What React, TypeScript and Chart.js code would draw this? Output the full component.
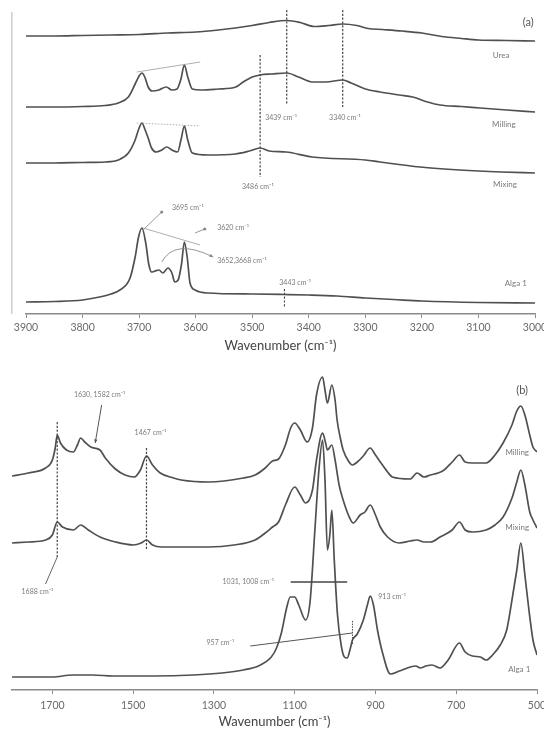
import { useEffect, useRef } from "react";
import { Chart, registerables } from "chart.js";

Chart.register(...registerables);

const FONT = "Lato, 'Open Sans', 'DejaVu Sans', sans-serif";
const TRACE_COLOR = "#505050";

type Pt = [number, number];

// ---- Panel (a): 3900–3000 cm⁻¹, stacked spectra (wavenumber, offset absorbance) ----
const TICKS_A = [3900, 3800, 3700, 3600, 3500, 3400, 3300, 3200, 3100, 3000];

const UREA_A: Pt[] = [
  [3900, 2.78], [3850, 2.78], [3800, 2.785], [3750, 2.79], [3700, 2.795], [3650, 2.81],
  [3600, 2.82], [3560, 2.84], [3530, 2.86], [3500, 2.885], [3470, 2.915], [3439, 2.935],
  [3415, 2.915], [3390, 2.875], [3365, 2.885], [3340, 2.9], [3315, 2.885], [3295, 2.855],
  [3270, 2.845], [3235, 2.83], [3200, 2.81], [3165, 2.775], [3130, 2.755], [3100, 2.74],
  [3050, 2.735], [3000, 2.73],
];

const MILLING_A: Pt[] = [
  [3900, 2.07], [3850, 2.07], [3800, 2.075], [3760, 2.085], [3737, 2.11], [3719, 2.17],
  [3707, 2.3], [3700, 2.38], [3695, 2.41], [3690, 2.37], [3684, 2.27], [3677, 2.23],
  [3665, 2.24], [3652, 2.27], [3642, 2.24], [3633, 2.25], [3626, 2.35], [3620, 2.49],
  [3614, 2.37], [3606, 2.25], [3590, 2.24], [3560, 2.25], [3529, 2.27], [3516, 2.32],
  [3500, 2.37], [3486, 2.39], [3465, 2.4], [3439, 2.41], [3418, 2.37], [3394, 2.32],
  [3370, 2.32], [3340, 2.34], [3325, 2.31], [3300, 2.25], [3274, 2.22], [3240, 2.19],
  [3216, 2.17], [3190, 2.12], [3168, 2.09], [3130, 2.075], [3097, 2.06], [3050, 2.04],
  [3000, 2.02],
];

const MIXING_A: Pt[] = [
  [3900, 1.51], [3850, 1.51], [3800, 1.515], [3760, 1.52], [3737, 1.54], [3719, 1.61],
  [3707, 1.74], [3700, 1.86], [3695, 1.91], [3690, 1.85], [3684, 1.76], [3678, 1.66],
  [3670, 1.62], [3660, 1.64], [3651, 1.67], [3642, 1.64], [3632, 1.62], [3626, 1.74],
  [3620, 1.88], [3614, 1.74], [3606, 1.61], [3578, 1.59], [3530, 1.6], [3505, 1.63],
  [3486, 1.66], [3470, 1.63], [3440, 1.62], [3394, 1.57], [3300, 1.54], [3274, 1.52],
  [3203, 1.47], [3133, 1.44], [3060, 1.42], [3000, 1.41],
];

const ALGA_A: Pt[] = [
  [3900, 0.12], [3850, 0.125], [3800, 0.14], [3770, 0.17], [3750, 0.2], [3734, 0.24],
  [3716, 0.36], [3707, 0.57], [3701, 0.77], [3695, 0.86], [3688, 0.7], [3683, 0.5],
  [3678, 0.42], [3672, 0.43], [3665, 0.44], [3658, 0.41], [3649, 0.46], [3642, 0.41],
  [3637, 0.32], [3631, 0.34], [3625, 0.5], [3620, 0.72], [3615, 0.57], [3610, 0.31],
  [3601, 0.24], [3580, 0.21], [3500, 0.2], [3443, 0.195], [3400, 0.19], [3350, 0.18],
  [3300, 0.16], [3250, 0.145], [3200, 0.13], [3100, 0.115], [3000, 0.11],
];

// ---- Panel (b): 1800–500 cm⁻¹ ----
const TICKS_B = [1700, 1500, 1300, 1100, 900, 700, 500];

const MILLING_B: Pt[] = [
  [1800, 2.14], [1760, 2.17], [1717, 2.22], [1700, 2.3], [1693, 2.42], [1688, 2.55],
  [1680, 2.47], [1665, 2.4], [1648, 2.38], [1638, 2.45], [1630, 2.52], [1620, 2.48],
  [1605, 2.43], [1582, 2.4], [1569, 2.32], [1544, 2.21], [1520, 2.15], [1497, 2.13],
  [1482, 2.2], [1467, 2.34], [1452, 2.25], [1433, 2.17], [1400, 2.12], [1381, 2.1],
  [1313, 2.08], [1227, 2.12], [1198, 2.15], [1173, 2.22], [1155, 2.29], [1140, 2.31],
  [1123, 2.45], [1110, 2.62], [1100, 2.67], [1086, 2.6], [1069, 2.48], [1056, 2.62],
  [1046, 2.95], [1031, 3.13], [1025, 3.0], [1019, 2.87], [1008, 3.05], [1000, 2.9],
  [995, 2.7], [987, 2.52], [980, 2.4], [967, 2.29], [957, 2.25], [945, 2.28], [930, 2.34],
  [913, 2.42], [900, 2.35], [888, 2.28], [870, 2.18], [858, 2.13], [814, 2.11], [797, 2.17],
  [780, 2.13], [764, 2.15], [745, 2.17], [730, 2.2], [710, 2.28], [692, 2.35], [678, 2.28],
  [660, 2.27], [626, 2.27], [604, 2.35], [584, 2.47], [562, 2.65], [550, 2.79], [540, 2.84],
  [530, 2.75], [518, 2.55], [510, 2.43], [500, 2.38],
];

const MIXING_B: Pt[] = [
  [1800, 1.47], [1760, 1.48], [1717, 1.5], [1700, 1.55], [1688, 1.68], [1675, 1.63],
  [1648, 1.6], [1630, 1.65], [1611, 1.6], [1582, 1.53], [1544, 1.48], [1500, 1.45],
  [1480, 1.47], [1467, 1.5], [1452, 1.45], [1430, 1.43], [1313, 1.43], [1250, 1.45],
  [1198, 1.5], [1173, 1.57], [1155, 1.63], [1140, 1.68], [1123, 1.85], [1100, 2.03],
  [1086, 1.95], [1073, 1.87], [1056, 2.0], [1046, 2.3], [1031, 2.57], [1024, 2.48],
  [1019, 2.4], [1008, 2.45], [1000, 2.3], [990, 2.05], [980, 1.9], [967, 1.75], [955, 1.67],
  [938, 1.75], [926, 1.78], [913, 1.85], [900, 1.75], [888, 1.63], [870, 1.53], [841, 1.47],
  [814, 1.49], [797, 1.5], [780, 1.48], [764, 1.48], [740, 1.53], [710, 1.6], [692, 1.68],
  [678, 1.6], [660, 1.58], [626, 1.6], [604, 1.65], [584, 1.73], [562, 1.92], [550, 2.08],
  [540, 2.2], [530, 2.05], [518, 1.78], [510, 1.7], [500, 1.62],
];

const ALGA_B: Pt[] = [
  [1800, 0.13], [1700, 0.13], [1650, 0.15], [1600, 0.15], [1550, 0.14], [1450, 0.14],
  [1350, 0.15], [1280, 0.17], [1227, 0.2], [1190, 0.24], [1158, 0.33], [1145, 0.42],
  [1133, 0.57], [1120, 0.82], [1111, 0.93], [1100, 0.93], [1090, 0.85], [1073, 0.7],
  [1062, 0.88], [1050, 1.6], [1040, 2.2], [1031, 2.5], [1025, 2.1], [1019, 1.4],
  [1013, 1.55], [1008, 1.8], [1002, 1.3], [994, 0.75], [985, 0.45], [977, 0.33], [970, 0.32],
  [962, 0.42], [957, 0.5], [945, 0.56], [930, 0.7], [920, 0.85], [913, 0.94], [905, 0.85],
  [895, 0.6], [883, 0.38], [863, 0.16], [841, 0.19], [814, 0.23], [800, 0.24], [789, 0.22],
  [775, 0.24], [760, 0.25], [740, 0.22], [720, 0.3], [692, 0.47], [678, 0.38], [660, 0.34],
  [640, 0.33], [626, 0.3], [610, 0.35], [591, 0.45], [575, 0.6], [560, 0.95], [550, 1.2],
  [540, 1.47], [530, 1.15], [520, 0.8], [510, 0.5], [500, 0.35],
];

// ---- Annotations, placed in (wavenumber, absorbance) coordinates ----
type Note =
  | { kind: "line"; pts: Pt[]; color?: string; width?: number; dash?: number[]; end?: "dot" | "arrow" }
  | { kind: "curve"; pts: [Pt, Pt, Pt]; color?: string; width?: number; end?: "dot" | "arrow" }
  | { kind: "text"; at: Pt; text: string; size?: number; color?: string; align?: CanvasTextAlign };

const DASH = [2.2, 1.6];
const NOTE_GREY = "#8a8a8a";

const NOTES_A: Note[] = [
  { kind: "line", pts: [[3925, 3.02], [3925, 0]], color: "#b5b5b5", width: 1 },
  { kind: "line", pts: [[3439, 3.04], [3439, 2.09]], dash: DASH, color: "#444", width: 1.2 },
  { kind: "line", pts: [[3340, 3.04], [3340, 2.07]], dash: DASH, color: "#444", width: 1.2 },
  { kind: "line", pts: [[3486, 2.59], [3486, 1.37]], dash: DASH, color: "#444", width: 1.2 },
  { kind: "line", pts: [[3443, 0.25], [3443, 0.07]], dash: DASH, color: "#444", width: 1.1 },
  { kind: "text", at: [3449, 1.96], text: "3439 cm⁻¹" },
  { kind: "text", at: [3336, 1.96], text: "3340 cm⁻¹" },
  { kind: "text", at: [3490, 1.27], text: "3486 cm⁻¹" },
  { kind: "text", at: [3424, 0.31], text: "3443 cm⁻¹" },
  { kind: "line", pts: [[3704, 2.42], [3592, 2.52]], color: "#9a9a9a", width: 0.8 },
  { kind: "line", pts: [[3704, 1.91], [3592, 1.88]], color: "#9a9a9a", width: 0.8, dash: [1.5, 1.5] },
  { kind: "line", pts: [[3693, 0.86], [3592, 0.69]], color: "#9a9a9a", width: 0.8 },
  { kind: "line", pts: [[3693, 0.84], [3660, 1.02]], color: NOTE_GREY, width: 0.9, end: "dot" },
  { kind: "text", at: [3642, 1.06], text: "3695 cm⁻¹", align: "left" },
  { kind: "line", pts: [[3601, 0.81], [3584, 0.85]], color: NOTE_GREY, width: 0.9, end: "dot" },
  { kind: "text", at: [3562, 0.86], text: "3620 cm⁻¹", align: "left" },
  { kind: "curve", pts: [[3660, 0.52], [3637, 0.76], [3569, 0.57]], color: NOTE_GREY, width: 0.9, end: "arrow" },
  { kind: "text", at: [3562, 0.53], text: "3652,3668 cm⁻¹", align: "left" },
  { kind: "text", at: [3060, 2.59], text: "Urea", size: 8 },
  { kind: "text", at: [3055, 1.9], text: "Milling", size: 8 },
  { kind: "text", at: [3053, 1.3], text: "Mixing", size: 8 },
  { kind: "text", at: [3034, 0.31], text: "Alga 1", size: 8 },
  { kind: "text", at: [3012, 2.92], text: "(a)", size: 11, color: "#555" },
];

const NOTES_B: Note[] = [
  { kind: "line", pts: [[1688, 2.68], [1688, 1.33]], dash: DASH, color: "#444", width: 1.2 },
  { kind: "line", pts: [[1467, 2.42], [1467, 1.4]], dash: DASH, color: "#444", width: 1.2 },
  { kind: "text", at: [1583, 2.95], text: "1630, 1582 cm⁻¹" },
  { kind: "line", pts: [[1578, 2.85], [1594, 2.47]], color: "#555", width: 1, end: "arrow" },
  { kind: "text", at: [1457, 2.57], text: "1467 cm⁻¹" },
  { kind: "text", at: [1737, 0.98], text: "1688 cm⁻¹" },
  { kind: "line", pts: [[1717, 1.06], [1688, 1.33]], color: "#666", width: 1 },
  { kind: "text", at: [1215, 1.08], text: "1031, 1008 cm⁻¹" },
  { kind: "line", pts: [[1110, 1.08], [970, 1.08]], color: "#444", width: 1.4 },
  { kind: "text", at: [893, 0.93], text: "913 cm⁻¹", align: "left" },
  { kind: "text", at: [1284, 0.47], text: "957 cm⁻¹" },
  { kind: "line", pts: [[1210, 0.44], [957, 0.57]], color: "#555", width: 1 },
  { kind: "line", pts: [[957, 0.46], [957, 0.7]], dash: [1.5, 1.2], color: "#444", width: 1 },
  { kind: "text", at: [549, 2.38], text: "Milling", size: 8 },
  { kind: "text", at: [549, 1.63], text: "Mixing", size: 8 },
  { kind: "text", at: [544, 0.21], text: "Alga 1", size: 8 },
  { kind: "text", at: [537, 3.0], text: "(b)", size: 11, color: "#555" },
];

type PanelSpec = {
  series: Pt[][];
  ticks: number[];
  wMin: number;
  wMax: number;
  vMax: number;
  pad: { left: number; right: number; top: number; bottom: number };
  tickPad: number;
  notes: Note[];
};

const PANEL_A: PanelSpec = {
  series: [UREA_A, MILLING_A, MIXING_A, ALGA_A],
  ticks: TICKS_A,
  wMin: 3000,
  wMax: 3900,
  vMax: 3.1,
  pad: { left: 26, right: 9, top: 4, bottom: 6 },
  tickPad: 3,
  notes: NOTES_A,
};

const PANEL_B: PanelSpec = {
  series: [MILLING_B, MIXING_B, ALGA_B],
  ticks: TICKS_B,
  wMin: 500,
  wMax: 1800,
  vMax: 3.25,
  pad: { left: 12, right: 7, top: 5, bottom: 7 },
  tickPad: 5,
  notes: NOTES_B,
};

function drawEnd(ctx: CanvasRenderingContext2D, from: number[], to: number[], end: "dot" | "arrow") {
  if (end === "dot") {
    ctx.beginPath();
    ctx.arc(to[0], to[1], 1.6, 0, Math.PI * 2);
    ctx.fill();
    return;
  }
  const ang = Math.atan2(to[1] - from[1], to[0] - from[0]);
  const len = 4;
  ctx.beginPath();
  ctx.moveTo(to[0], to[1]);
  ctx.lineTo(to[0] - len * Math.cos(ang - 0.45), to[1] - len * Math.sin(ang - 0.45));
  ctx.lineTo(to[0] - len * Math.cos(ang + 0.45), to[1] - len * Math.sin(ang + 0.45));
  ctx.closePath();
  ctx.fill();
}

function notesPlugin(notes: Note[]) {
  return {
    id: "spectrumNotes",
    afterDraw(chart: Chart) {
      const { ctx } = chart;
      const xs = chart.scales.x;
      const ys = chart.scales.y;
      const P = (p: Pt) => [xs.getPixelForValue(p[0]), ys.getPixelForValue(p[1])];
      ctx.save();
      for (const n of notes) {
        if (n.kind === "text") {
          const [x, y] = P(n.at);
          ctx.font = `${n.size ?? 7}px ${FONT}`;
          ctx.fillStyle = n.color ?? "#7a7a7a";
          ctx.textAlign = n.align ?? "center";
          ctx.textBaseline = "middle";
          ctx.fillText(n.text, x, y);
          continue;
        }
        const color = n.color ?? "#555";
        ctx.strokeStyle = color;
        ctx.fillStyle = color;
        ctx.lineWidth = n.width ?? 1;
        const pp = n.pts.map(P);
        ctx.setLineDash(n.kind === "line" && n.dash ? n.dash : []);
        ctx.beginPath();
        ctx.moveTo(pp[0][0], pp[0][1]);
        if (n.kind === "curve") {
          ctx.quadraticCurveTo(pp[1][0], pp[1][1], pp[2][0], pp[2][1]);
        } else {
          for (let i = 1; i < pp.length; i++) ctx.lineTo(pp[i][0], pp[i][1]);
        }
        ctx.stroke();
        ctx.setLineDash([]);
        if (n.end) drawEnd(ctx, pp[pp.length - 2], pp[pp.length - 1], n.end);
      }
      ctx.restore();
    },
  };
}

function SpectrumPanel({ spec, top, height }: { spec: PanelSpec; top: number; height: number }) {
  const ref = useRef<HTMLCanvasElement | null>(null);

  useEffect(() => {
    if (!ref.current) return;
    const chart = new Chart(ref.current, {
      type: "line",
      data: {
        datasets: spec.series.map((s) => ({
          data: s.map(([x, y]) => ({ x, y })),
          borderColor: TRACE_COLOR,
          borderWidth: 1.7,
          pointRadius: 0,
          fill: false,
          cubicInterpolationMode: "monotone" as const,
        })),
      },
      options: {
        animation: false,
        responsive: false,
        maintainAspectRatio: false,
        events: [],
        layout: { padding: spec.pad },
        plugins: { legend: { display: false }, tooltip: { enabled: false } },
        scales: {
          x: {
            type: "linear",
            min: spec.wMin,
            max: spec.wMax,
            reverse: true,
            afterBuildTicks: (s: any) => {
              s.ticks = spec.ticks.map((value) => ({ value }));
            },
            afterFit: (s: any) => {
              s.height = 40;
              s.paddingLeft = 0;
              s.paddingRight = 0;
            },
            ticks: {
              autoSkip: false,
              maxRotation: 0,
              padding: spec.tickPad,
              color: "#6a6a6a",
              font: { family: FONT, size: 10.5 },
              callback: (v: any) => String(v),
            },
            grid: { drawOnChartArea: false, drawTicks: true, tickLength: 4, color: "#8a8a8a", lineWidth: 1 },
            border: { display: true, color: "#8a8a8a", width: 1.5 },
            title: {
              display: true,
              text: "Wavenumber (cm⁻¹)",
              color: "#444",
              font: { family: FONT, size: 13 },
              padding: 0,
            },
          },
          y: { type: "linear", display: false, min: 0, max: spec.vMax },
        },
      },
      plugins: [notesPlugin(spec.notes)],
    } as any);
    return () => chart.destroy();
  }, [spec]);

  return (
    <canvas
      ref={ref}
      width={544}
      height={height}
      style={{ position: "absolute", left: 0, top, width: 544, height, display: "block" }}
    />
  );
}

export default function App() {
  return (
    <div
      style={{
        position: "absolute",
        left: 0,
        top: 0,
        width: 544,
        height: 737,
        background: "#ffffff",
        overflow: "hidden",
      }}
    >
      <SpectrumPanel spec={PANEL_A} top={0} height={360} />
      <SpectrumPanel spec={PANEL_B} top={360} height={377} />
    </div>
  );
}
